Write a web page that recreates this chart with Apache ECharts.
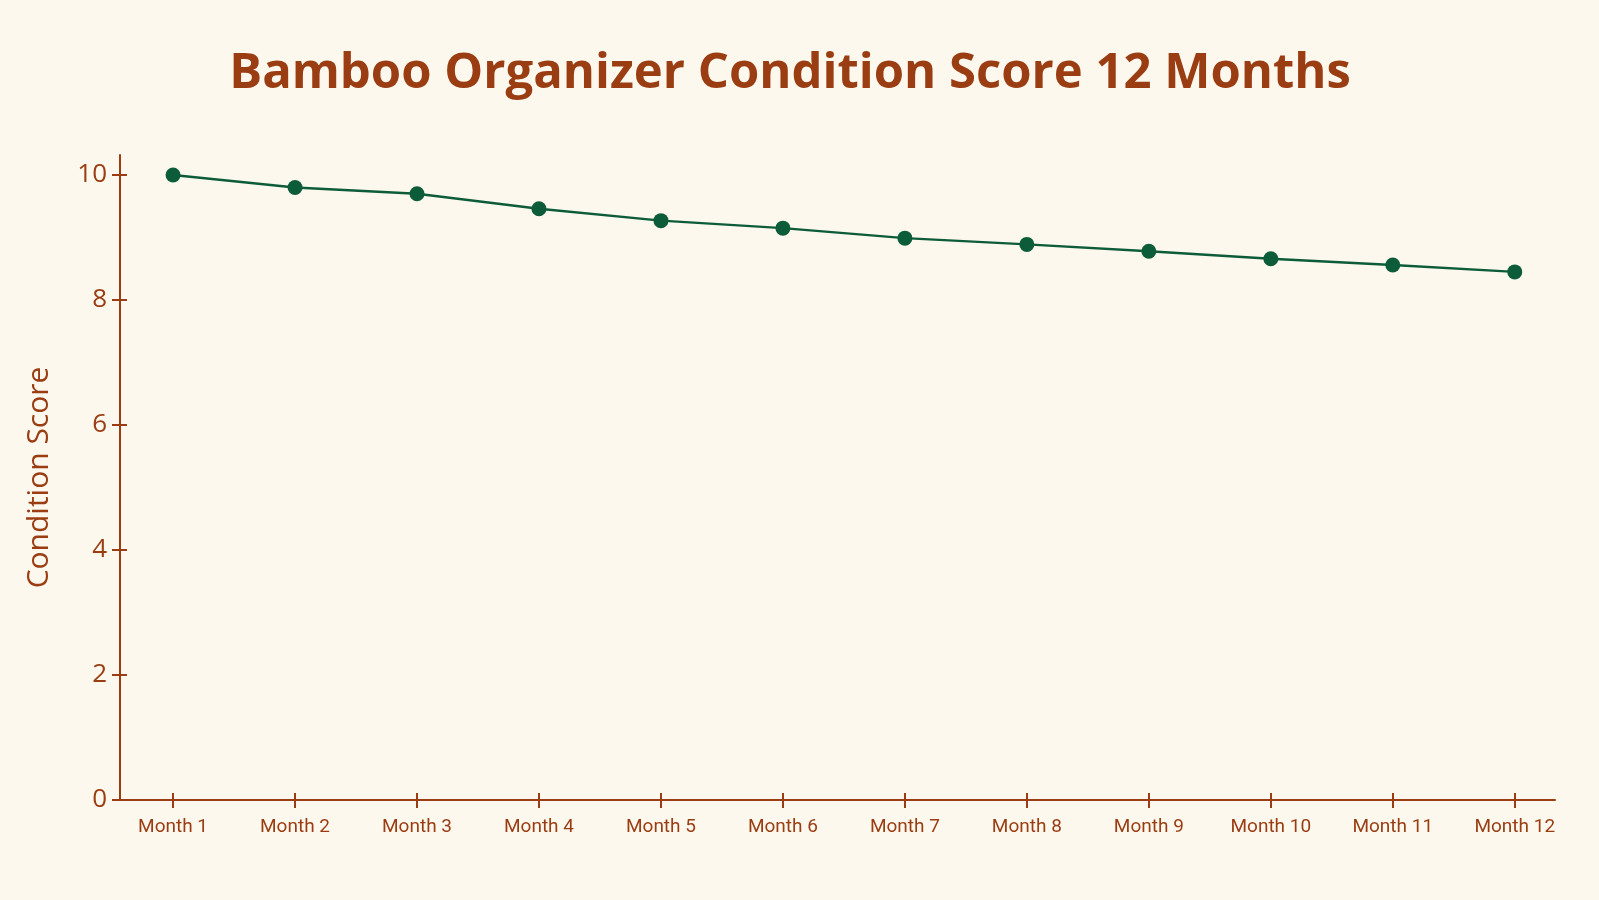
<!DOCTYPE html>
<html>
<head>
<meta charset="utf-8">
<script src="https://cdn.jsdelivr.net/npm/echarts@6/dist/echarts.min.js"></script>
<style>
  html, body { margin: 0; padding: 0; background: #fdf8ee; }
  #chart { width: 1599px; height: 900px; }
</style>
</head>
<body>
<div id="chart"></div>
<script>
    'use strict'

    /* Chart data */
    var months = ['Month 1', 'Month 2', 'Month 3', 'Month 4', 'Month 5', 'Month 6',
        'Month 7', 'Month 8', 'Month 9', 'Month 10', 'Month 11', 'Month 12'];
    var scores = [10, 9.8, 9.7, 9.46, 9.27, 9.15, 8.99, 8.89, 8.78, 8.66, 8.56, 8.45];
    var yTicks = [0, 2, 4, 6, 8, 10];

    var brown = '#9a3d12';
    var green = '#0d5c39';

    // x positions 1..12 so the axis can run a little past the first and last month
    var monthPos = months.map(function (m, i) { return i + 1; });
    var points = scores.map(function (v, i) { return [monthPos[i], v]; });

    var chart = echarts.init(document.getElementById('chart'));

    var xBase = {
        type: 'value',
        min: 0.565,
        max: 12.33,
        splitLine: { show: false }
    };
    var yBase = {
        type: 'value',
        min: 0,
        max: 10.32,
        splitLine: { show: false }
    };

    chart.setOption({
        backgroundColor: '#fdf8ee',
        title: {
            text: 'Bamboo Organizer Condition Score 12 Months',
            left: 785,
            top: 45,
            textAlign: 'center',
            textStyle: {
                fontFamily: 'Open Sans',
                fontWeight: 'bold',
                fontSize: 49,
                color: brown
            }
        },
        grid: {
            left: 120,
            right: 44,
            top: 155,
            bottom: 100
        },
        xAxis: [
            Object.assign({}, xBase, {
                axisLine: { lineStyle: { color: brown, width: 2 } },
                axisTick: {
                    customValues: monthPos,
                    length: 8,
                    lineStyle: { color: brown, width: 2 }
                },
                axisLabel: {
                    customValues: monthPos,
                    margin: 18,
                    fontFamily: 'Liberation Sans Narrow, Roboto',
                    fontSize: 19,
                    color: brown,
                    formatter: function (v) { return months[v - 1]; }
                }
            }),
            Object.assign({}, xBase, {
                position: 'bottom',
                axisLine: { show: false },
                axisTick: {
                    customValues: monthPos,
                    inside: true,
                    length: 7,
                    lineStyle: { color: brown, width: 2 }
                },
                axisLabel: { show: false }
            })
        ],
        yAxis: [
            Object.assign({}, yBase, {
                name: 'Condition Score',
                nameLocation: 'middle',
                nameGap: 66,
                nameTextStyle: {
                    fontFamily: 'Open Sans',
                    fontSize: 30,
                    color: brown
                },
                axisLine: { show: true, lineStyle: { color: brown, width: 2 } },
                axisTick: {
                    show: true,
                    customValues: yTicks,
                    length: 8,
                    lineStyle: { color: brown, width: 2 }
                },
                axisLabel: {
                    customValues: yTicks,
                    margin: 13,
                    fontFamily: 'Open Sans',
                    fontSize: 26,
                    color: brown
                }
            }),
            Object.assign({}, yBase, {
                position: 'left',
                axisLine: { show: false },
                axisTick: {
                    show: true,
                    customValues: yTicks,
                    inside: true,
                    length: 7,
                    lineStyle: { color: brown, width: 2 }
                },
                axisLabel: { show: false }
            })
        ],
        series: [{
            name: 'Condition Score',
            type: 'line',
            data: points,
            symbol: 'circle',
            symbolSize: 15,
            lineStyle: { color: green, width: 2.5 },
            itemStyle: { color: green },
            animation: false
        }]
    });
</script>
</body>
</html>
